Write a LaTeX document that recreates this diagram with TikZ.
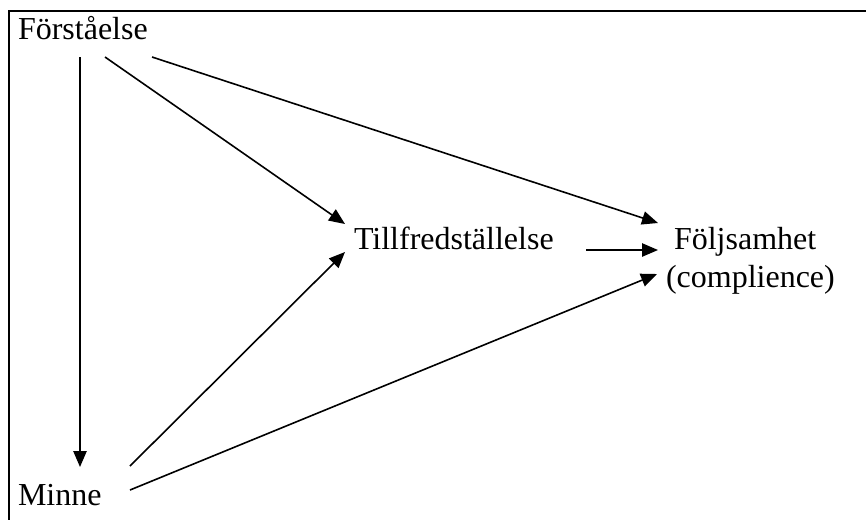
\documentclass[tikz,border=0pt]{standalone}
\usepackage{fontspec}
\setmainfont{Liberation Serif}
\usetikzlibrary{arrows.meta}
\begin{document}
\begin{tikzpicture}[x=0.75pt,y=-0.75pt,
  lbl/.style={inner sep=0pt,outer sep=0pt,font=\fontsize{24}{28}\selectfont},
  conn/.style={line width=1.2pt,-{Triangle[length=12pt,width=10pt]}},
  frame/.style={line width=1.5pt}]
\useasboundingbox (0,0) rectangle (866,519);
\draw[frame] (8.5,525) -- (8.5,11) -- (872,11);
\node[lbl,anchor=base west] (F) at (18,39) {Förståelse};
\node[lbl,anchor=base west] (M) at (18,505) {Minne};
\node[lbl,anchor=base west] (T) at (354,249) {Tillfredställelse};
\node[lbl,anchor=base west] (S) at (674,249) {Följsamhet};
\node[lbl,anchor=base west] (C) at (666,287) {(complience)};
\coordinate (f1) at (80,57);
\coordinate (f2) at (105,57);
\coordinate (f3) at (152,57);
\coordinate (m1) at (80,467);
\coordinate (m2) at (130,466);
\coordinate (m3) at (130,490);
\coordinate (t1) at (345,224);
\coordinate (t2) at (345,252);
\coordinate (t3) at (586,250);
\coordinate (s1) at (658,223);
\coordinate (s2) at (658,250);
\coordinate (s3) at (657,274);
\draw[conn] (f1) -- (m1);
\draw[conn] (f2) -- (t1);
\draw[conn] (f3) -- (s1);
\draw[conn] (t3) -- (s2);
\draw[conn] (m2) -- (t2);
\draw[conn] (m3) -- (s3);
\end{tikzpicture}
\end{document}
